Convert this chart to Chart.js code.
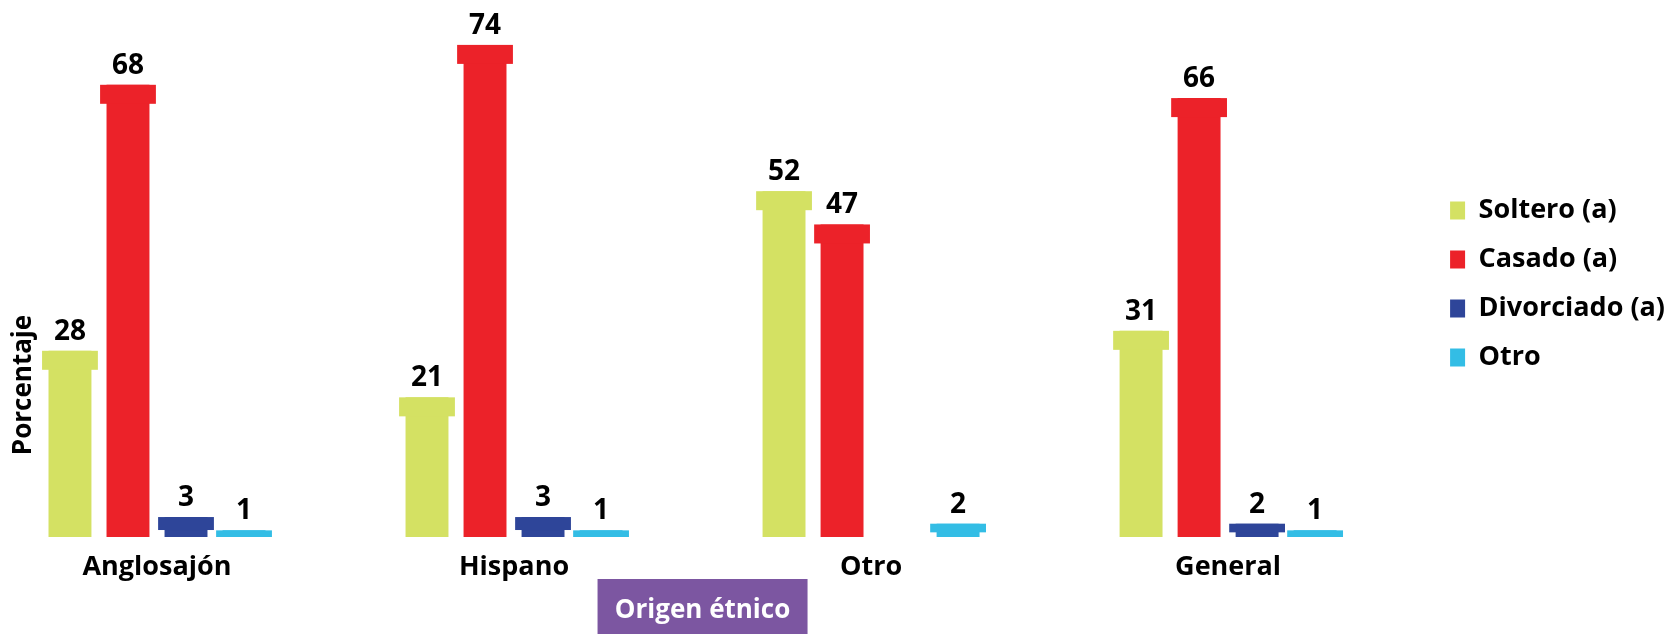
<!DOCTYPE html>
<html>
<head>
<meta charset="utf-8">
<script src="https://cdn.jsdelivr.net/npm/chart.js@4.4.1/dist/chart.umd.min.js"></script>
<style>
  html, body { margin: 0; padding: 0; background: #fff; }
  #wrap { width: 1667px; height: 634px; position: relative; }
</style>
</head>
<body>
<div id="wrap"><canvas id="myChart"></canvas></div>
<script>
/* Data */

const categories = ['Anglosajón', 'Hispano', 'Otro', 'General'];
const soltero = [28, 21, 52, 31];
const casado = [68, 74, 47, 66];
const divorciado = [3, 3, null, 2];
const otro = [1, 1, 2, 1];
const seriesNames = ['Soltero (a)', 'Casado (a)', 'Divorciado (a)', 'Otro'];
const colors = ['#d4e163', '#ec2229', '#2e4599', '#33bde5'];

const font = '"Open Sans"';

/* Caps on top of the bars, value labels, axis boxes */

const barDecor = {
    id: 'barDecor',
    beforeDraw(chart) {
        const c = chart.ctx;
        const area = chart.chartArea;
        const cx = (area.left + area.right) / 2 + 10;
        c.save();
        c.fillStyle = '#7c56a1';
        c.fillRect(cx - 105, 579, 210, chart.height - 579);
        c.fillStyle = '#fff';
        c.font = 'bold 26px ' + font;
        c.textAlign = 'center';
        c.textBaseline = 'middle';
        c.fillText('Origen étnico', cx, 611);
        c.restore();
    },
    afterDatasetsDraw(chart) {
        const c = chart.ctx;
        c.save();
        chart.data.datasets.forEach((ds, i) => {
            const meta = chart.getDatasetMeta(i);
            meta.data.forEach((bar, j) => {
                const v = ds.data[j];
                if (v === null || v === undefined) return;
                const h = bar.base - bar.y;
                const capH = h < 10 ? h : Math.min(19, h * 0.65);
                const capW = bar.width * 1.3;
                c.fillStyle = ds.backgroundColor;
                c.fillRect(bar.x - capW / 2, bar.y, capW, capH);
                c.fillStyle = '#000';
                c.font = 'bold 28px ' + font;
                c.textAlign = 'center';
                c.textBaseline = 'middle';
                c.fillText(String(v), bar.x, bar.y - 19);
            });
        });
        // y axis title
        c.translate(24, 385);
        c.rotate(-Math.PI / 2);
        c.font = 'bold 26px ' + font;
        c.textAlign = 'center';
        c.textBaseline = 'middle';
        c.fillStyle = '#000';
        c.fillText('Porcentaje', 0, 0);
        c.restore();
    }
};

const ctx = document.getElementById('myChart');
new Chart(ctx, {
    type: 'bar',
    data: {
        labels: categories,
        datasets: [soltero, casado, divorciado, otro].map((d, i) => ({
            label: seriesNames[i],
            data: d,
            backgroundColor: colors[i],
            borderWidth: 0,
            clip: false,
            categoryPercentage: 0.65,
            barPercentage: 0.74
        }))
    },
    options: {
        responsive: true,
        maintainAspectRatio: false,
        animation: false,
        layout: {
            padding: {left: 157, top: 5, right: -8, bottom: 0}
        },
        scales: {
            x: {
                offset: false,
                grid: {display: false},
                border: {display: false},
                ticks: {
                    autoSkip: false,
                    maxRotation: 0,
                    color: '#000',
                    padding: 6,
                    font: {family: font, weight: 'bold', size: 27}
                },
                afterFit: (s) => { s.height = 97; }
            },
            y: {
                position: 'right',
                min: 0,
                max: 80,
                grid: {display: false},
                border: {display: false},
                ticks: {display: false},
                afterFit: (s) => { s.width = 200; }
            }
        },
        plugins: {
            legend: {
                position: 'right',
                fullSize: false,
                title: {
                    display: true,
                    text: '',
                    padding: 0,
                    font: {size: 20, lineHeight: 1.3}
                },
                labels: {
                    color: '#000',
                    boxWidth: 15,
                    boxHeight: 18,
                    padding: 22,
                    font: {family: font, weight: 'bold', size: 27}
                }
            },
            tooltip: {enabled: false}
        }
    },
    plugins: [barDecor]
});
</script>
</body>
</html>
